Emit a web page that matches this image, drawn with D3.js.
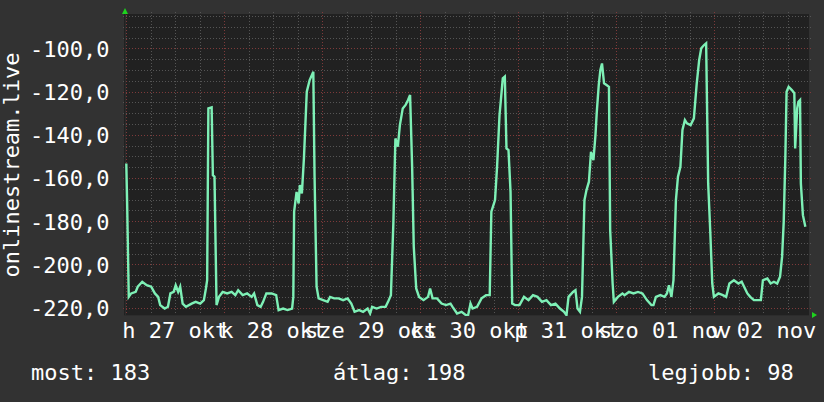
<!DOCTYPE html>
<html>
<head>
<meta charset="utf-8">
<script src="https://cdn.jsdelivr.net/npm/d3@7"></script>
<style>
  html, body { margin: 0; padding: 0; background: #323232; }
  svg text { font-family: "DejaVu Sans Mono", monospace; fill: #ffffff; }
</style>
</head>
<body>
<svg id="chart" width="824" height="402"></svg>
<script>
// ---- data ----
const yTitle = "onlinestream.live";
const dayLabels = ["h 27 okt", "k 28 okt", "sze 29 okt", "cs 30 okt", "p 31 okt", "szo 01 nov", "v 02 nov"];
const yTickValues = [-100, -120, -140, -160, -180, -200, -220];
const legendLabels = ["most: 183", "átlag: 198", "legjobb: 98"];
// [hours since Mon 27 Oct 00:00, value]
const series = [
[0,-153.3],[0.2,-171.0],[0.6,-215.0],[1.2,-213.4],[2.3,-212.7],[2.8,-210.3],[3.9,-208.0],[5.0,-209.6],[6.1,-210.3],[7.0,-213.4],[7.8,-215.0],[8.3,-218.8],[9.4,-220.4],[10.2,-219.6],[10.8,-213.4],[11.6,-212.7],[12.1,-209.6],[12.7,-212.7],[13.2,-210.3],[13.8,-218.1],[14.6,-219.6],[16.0,-218.1],[17.0,-217.3],[18.1,-218.1],[19.0,-216.5],[19.5,-211.1],[19.8,-207.3],[20.1,-127.8],[20.9,-127.3],[21.2,-158.7],[21.6,-159.4],[22.1,-218.8],[22.7,-215.0],[23.6,-212.7],[24.7,-213.4],[25.8,-212.7],[26.7,-214.2],[27.4,-211.9],[28.5,-214.2],[29.6,-213.4],[30.7,-215.0],[31.3,-213.4],[32.1,-218.8],[32.9,-219.6],[33.5,-217.3],[34.3,-213.4],[35.6,-213.4],[36.7,-214.2],[37.3,-221.1],[38.4,-220.4],[39.5,-221.1],[40.6,-220.4],[40.9,-215.0],[41.1,-175.6],[41.7,-166.4],[42.2,-171.8],[42.5,-163.3],[43.0,-167.1],[43.5,-150.9],[44.2,-120.1],[44.9,-114.7],[45.8,-110.8],[46.1,-158.7],[46.6,-210.3],[47.1,-215.7],[48.2,-216.5],[49.3,-217.3],[49.9,-215.0],[50.9,-215.7],[52.0,-215.7],[53.1,-216.5],[54.2,-215.7],[55.1,-218.1],[55.9,-221.9],[57.0,-221.1],[58.0,-221.9],[59.1,-220.4],[59.7,-222.7],[60.2,-219.6],[61.3,-220.4],[62.4,-219.6],[63.5,-219.6],[64.1,-217.3],[64.8,-214.2],[65.4,-181.0],[65.9,-141.7],[66.5,-145.5],[67.0,-135.5],[67.7,-127.8],[68.4,-126.2],[69.0,-123.9],[69.5,-121.6],[70.0,-154.8],[70.4,-191.8],[71.0,-211.1],[71.7,-215.0],[72.8,-216.5],[73.9,-215.0],[74.4,-211.1],[75.0,-215.7],[76.1,-215.7],[77.2,-218.1],[78.3,-218.8],[79.4,-218.1],[79.9,-219.6],[81.0,-222.7],[82.1,-221.9],[83.2,-223.5],[83.7,-223.5],[84.3,-218.1],[84.8,-220.4],[85.9,-219.6],[87.0,-215.7],[88.1,-214.2],[89.0,-214.2],[89.4,-175.6],[90.3,-170.2],[90.8,-154.8],[91.4,-130.9],[91.7,-124.7],[92.2,-113.9],[92.7,-113.1],[93.1,-146.3],[93.6,-147.1],[94.1,-166.4],[94.5,-218.1],[95.2,-218.8],[96.3,-218.8],[97.4,-215.0],[98.5,-216.5],[99.6,-214.2],[100.7,-215.0],[101.8,-217.3],[102.9,-216.5],[104.0,-218.8],[105.1,-218.1],[106.2,-220.4],[107.2,-221.9],[107.8,-223.5],[108.3,-215.0],[109.4,-212.7],[110.0,-211.9],[110.5,-220.4],[111.1,-221.9],[111.6,-215.0],[112.2,-170.2],[112.7,-165.6],[113.3,-161.7],[113.8,-147.9],[114.4,-151.7],[114.9,-140.1],[115.2,-130.1],[115.7,-117.0],[116.1,-110.0],[116.5,-107.0],[117.0,-116.2],[117.6,-117.0],[118.2,-117.8],[118.5,-184.1],[119.1,-208.8],[119.4,-217.3],[120.4,-215.0],[121.5,-213.4],[122.0,-214.2],[123.1,-212.7],[124.2,-213.4],[125.3,-212.7],[126.4,-213.4],[127.5,-216.5],[128.6,-218.8],[129.1,-218.8],[129.7,-215.0],[130.8,-214.2],[131.8,-215.0],[132.4,-213.4],[132.9,-209.6],[133.5,-215.0],[134.0,-207.3],[134.6,-170.2],[135.1,-159.4],[135.7,-154.8],[136.2,-137.8],[136.8,-133.2],[137.3,-134.7],[138.2,-135.5],[139.0,-132.4],[139.7,-116.2],[140.3,-105.4],[140.8,-100.0],[141.5,-98.5],[142.0,-97.7],[142.5,-162.5],[143.0,-184.1],[143.5,-208.8],[143.9,-215.0],[145.0,-213.4],[146.1,-214.2],[146.9,-215.0],[147.7,-208.8],[148.8,-207.3],[149.9,-208.8],[150.7,-208.0],[151.3,-210.3],[152.1,-213.4],[152.8,-215.0],[153.7,-216.5],[154.8,-216.5],[155.4,-216.5],[155.9,-207.3],[157.0,-206.5],[157.8,-208.8],[158.6,-208.0],[159.4,-208.8],[160.1,-205.7],[160.6,-196.5],[161.0,-180.3],[161.4,-150.2],[161.7,-120.1],[162.2,-117.8],[163.0,-119.3],[163.6,-120.8],[163.8,-146.3],[164.3,-127.8],[164.6,-124.7],[165.0,-123.9],[165.2,-162.5],[165.7,-177.2],[166.3,-182.6]
];

// ---- layout ----
const W = 824, H = 402;
const plot = { left: 124, right: 809, top: 14, bottom: 316 };
const svg = d3.select("#chart");

const x = d3.scaleLinear().domain([0, 168]).range([126.3, 812.3]);
const y = d3.scaleLinear().domain([-225, -85]).range([318.5, 15.9]);

// background
svg.append("rect").attr("width", W).attr("height", H).attr("fill", "#323232");
svg.append("rect")
  .attr("x", plot.left).attr("y", plot.top)
  .attr("width", plot.right - plot.left).attr("height", plot.bottom - plot.top)
  .attr("fill", "#212121");

// grid
const grid = svg.append("g");
const hourMax = x.invert(plot.right);
const minorHours = d3.range(0, hourMax, 6);
const minorVals = d3.range(-225, -84, 5).filter(v => y(v) >= plot.top && y(v) <= plot.bottom);

grid.selectAll(".hminor").data(minorVals.filter(v => v % 20 !== 0)).join("line")
  .attr("x1", plot.left - 1).attr("x2", plot.right + 2)
  .attr("y1", d => Math.round(y(d)) + 0.5).attr("y2", d => Math.round(y(d)) + 0.5)
  .attr("stroke", "#555555").attr("stroke-width", 1).attr("stroke-dasharray", "1,2");
grid.selectAll(".vminor").data(minorHours.filter(h => h % 24 !== 0)).join("line")
  .attr("x1", d => Math.round(x(d)) + 0.5).attr("x2", d => Math.round(x(d)) + 0.5)
  .attr("y1", plot.top - 2).attr("y2", plot.bottom + 1)
  .attr("stroke", "#555555").attr("stroke-width", 1).attr("stroke-dasharray", "1,2");
grid.selectAll(".hmajor").data(yTickValues).join("line")
  .attr("x1", plot.left - 1).attr("x2", plot.right + 2)
  .attr("y1", d => Math.round(y(d)) + 0.5).attr("y2", d => Math.round(y(d)) + 0.5)
  .attr("stroke", "#7e3a3a").attr("stroke-width", 1).attr("stroke-dasharray", "1,2");
grid.selectAll(".vmajor").data(minorHours.filter(h => h % 24 === 0)).join("line")
  .attr("x1", d => Math.round(x(d)) + 0.5).attr("x2", d => Math.round(x(d)) + 0.5)
  .attr("y1", plot.top - 2).attr("y2", plot.bottom + 1)
  .attr("stroke", "#7e3a3a").attr("stroke-width", 1).attr("stroke-dasharray", "1,2");

// axes lines (subtle)
svg.append("line").attr("x1", 125.5).attr("x2", 125.5).attr("y1", plot.top).attr("y2", plot.bottom)
  .attr("stroke", "#2c2c2c");
svg.append("line").attr("x1", plot.left).attr("x2", plot.right).attr("y1", plot.bottom - 0.5).attr("y2", plot.bottom - 0.5)
  .attr("stroke", "#2c2c2c");

// arrows
svg.append("path").attr("d", "M122,14 L128,14 L125,8 Z").attr("fill", "#1ed41e");
svg.append("path").attr("d", "M812,312 L812,318 L817,315 Z").attr("fill", "#1ed41e");

// data line
svg.append("clipPath").attr("id", "clip").append("rect")
  .attr("x", plot.left).attr("y", plot.top - 2)
  .attr("width", plot.right - plot.left).attr("height", plot.bottom - plot.top + 2);
const line = d3.line().x(d => x(d[0])).y(d => y(d[1]));
svg.append("path").datum(series)
  .attr("clip-path", "url(#clip)")
  .attr("d", line)
  .attr("fill", "none")
  .attr("stroke", "#7ef0b6")
  .attr("stroke-width", 2.4)
  .attr("stroke-linejoin", "miter");

// y labels
const fmt = v => d3.format(".1f")(v).replace("−", "-").replace(".", ",");
svg.append("g").selectAll("text").data(yTickValues).join("text")
  .attr("x", 109.5).attr("y", d => y(d) + 8.3)
  .attr("text-anchor", "end")
  .attr("font-size", 22)
  .text(d => fmt(d));

// x labels (centered on noon of each day)
svg.append("g").selectAll("text").data(dayLabels).join("text")
  .attr("x", (d, i) => x(12 + 24 * i))
  .attr("y", 338)
  .attr("text-anchor", "middle")
  .attr("font-size", 22)
  .text(d => d);

// y title
svg.append("text")
  .attr("transform", "translate(19," + ((plot.top + plot.bottom) / 2) + ") rotate(-90)")
  .attr("text-anchor", "middle")
  .attr("font-size", 22)
  .text(yTitle);

// legend
const legendX = [31, 333, 648];
svg.append("g").selectAll("text").data(legendLabels).join("text")
  .attr("x", (d, i) => legendX[i]).attr("y", 380)
  .attr("font-size", 22)
  .text(d => d);
</script>
</body>
</html>
